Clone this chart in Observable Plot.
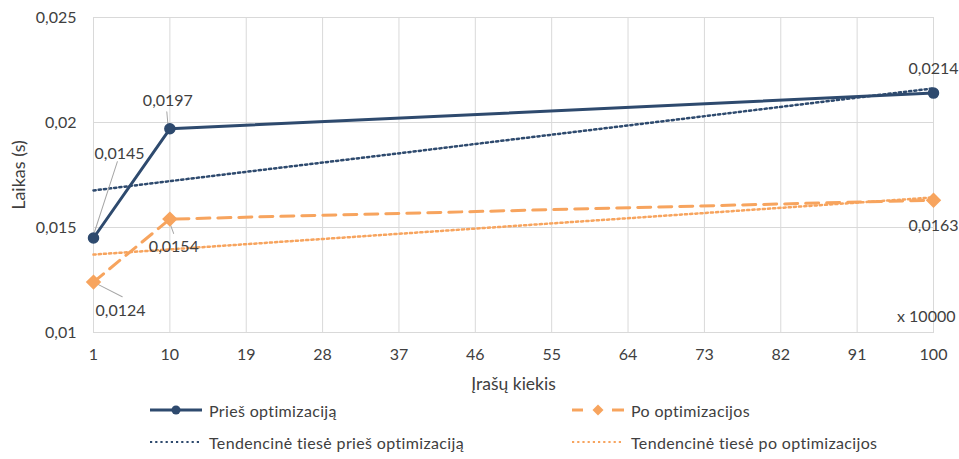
<!DOCTYPE html>
<html><head><meta charset="utf-8">
<script src="https://cdn.jsdelivr.net/npm/d3@7"></script>
<script src="https://cdn.jsdelivr.net/npm/@observablehq/plot@0.6"></script>
<style>
body{margin:0;background:#fff;font-family:Lato, "Open Sans", sans-serif;}
#chart{position:relative;width:959px;height:459px;overflow:hidden;}
#legend{position:absolute;left:0;top:400px;width:959px;height:59px;}
.leg{position:absolute;height:20px;display:flex;align-items:center;font-size:16px;letter-spacing:0.35px;color:#404040;white-space:nowrap;}
.leg svg{margin-right:7px;}
</style></head><body><div id="chart"></div>
<script>
// ---- data ----
const xValues = [1, 10, 100];
const beforeValues = [0.0145, 0.0197, 0.0214];
const afterValues = [0.0124, 0.0154, 0.0163];
const xTicks = [1, 10, 19, 28, 37, 46, 55, 64, 73, 82, 91, 100];
const yTicks = [0.01, 0.015, 0.02, 0.025];
const seriesNames = ["Prieš optimizaciją", "Po optimizacijos", "Tendencinė tiesė prieš optimizaciją", "Tendencinė tiesė po optimizacijos"];
const xLabel = "Įrašų kiekis";
const yLabel = "Laikas (s)";
const unitNote = "x 10000";

// ---- styles ----
const BLUE = "#2E4A6E", ORANGE = "#F7A45E", GRID = "#D9D9D9", TXT = "#404040", LEAD = "#A6A6A6";
const fmt = v => String(v).replace(".", ",");
const before = xValues.map((x, i) => ({x, y: beforeValues[i]}));
const after = xValues.map((x, i) => ({x, y: afterValues[i]}));
const leaderShape = {draw(ctx, l) { ctx.moveTo(0, 0); ctx.lineTo(0, -l); }};

function label(data, i, dx, dy) {
  return Plot.text(data, {filter: (d, j) => j === i, x: "x", y: "y", text: d => fmt(d.y), dx, dy, fill: TXT, fontSize: 16});
}
function leader(data, i, length, rotate, dx = 0, dy = 0) {
  return Plot.vector(data, {filter: (d, j) => j === i, x: "x", y: "y", length, rotate, anchor: "start", shape: leaderShape, stroke: LEAD, strokeWidth: 1, dx, dy});
}

const plot = Plot.plot({
  width: 959, height: 400,
  marginLeft: 93, marginRight: 26, marginTop: 17, marginBottom: 68,
  style: {fontFamily: "Lato, 'Open Sans', sans-serif", fontSize: "16px", color: TXT, background: "white", overflow: "visible"},
  x: {domain: [1, 100]},
  y: {domain: [0.01, 0.025]},
  length: {type: "identity"},
  marks: [
    Plot.gridX(xTicks, {stroke: GRID, strokeOpacity: 1}),
    Plot.gridY(yTicks, {stroke: GRID, strokeOpacity: 1}),
    Plot.frame({stroke: GRID}),
    Plot.axisX({ticks: xTicks, tickSize: 0, tickPadding: 16, label: null, fill: TXT, fontSize: 16}),
    Plot.axisY({ticks: yTicks, tickSize: 0, tickPadding: 17, tickFormat: fmt, label: null, fill: TXT, fontSize: 16}),
    Plot.text([xLabel], {frameAnchor: "bottom", dy: 52, lineAnchor: "middle", textAnchor: "middle", fill: TXT, fontSize: 17.5}),
    Plot.text([yLabel], {frameAnchor: "left", dx: -74, rotate: -90, lineAnchor: "middle", textAnchor: "middle", fill: TXT, fontSize: 18}),
    Plot.linearRegressionY(before, {x: "x", y: "y", stroke: BLUE, strokeWidth: 2.5, strokeDasharray: "2.2,3", ci: 0}),
    Plot.linearRegressionY(after, {x: "x", y: "y", stroke: ORANGE, strokeWidth: 2.5, strokeDasharray: "2.2,3", ci: 0}),
    leader(before, 0, 74, 18, 1, -6),
    leader(before, 1, 12, -5, -2, -5),
    leader(after, 0, 30, 117, 2, 1),
    leader(after, 1, 11, 160, 0, 4),
    Plot.line(before, {x: "x", y: "y", stroke: BLUE, strokeWidth: 3}),
    Plot.line(after, {x: "x", y: "y", stroke: ORANGE, strokeWidth: 3, strokeDasharray: "13,8"}),
    Plot.dot(before, {x: "x", y: "y", r: 5, fill: BLUE, stroke: BLUE}),
    Plot.dot(after, {x: "x", y: "y", r: 6, symbol: "diamond2", fill: ORANGE, stroke: ORANGE}),
    label(before, 0, 26, -84),
    label(before, 1, -2, -28),
    label(before, 2, 0, -24),
    label(after, 0, 27, 29),
    label(after, 1, 4, 28),
    label(after, 2, 0, 26),
    Plot.text([unitNote], {frameAnchor: "bottom-right", dx: 22, dy: -16, lineAnchor: "middle", textAnchor: "end", fill: TXT, fontSize: 16})
  ]
});
const chart = document.getElementById("chart");
chart.appendChild(plot);

// ---- legend ----
const legend = document.createElement("div");
legend.id = "legend";
const samples = [
  `<svg width="52" height="20"><line x1="0" x2="52" y1="10" y2="10" stroke="${BLUE}" stroke-width="3"/><circle cx="26" cy="10" r="4.5" fill="${BLUE}"/></svg>`,
  `<svg width="52" height="20"><line x1="0" x2="11" y1="10" y2="10" stroke="${ORANGE}" stroke-width="3"/><line x1="40" x2="52" y1="10" y2="10" stroke="${ORANGE}" stroke-width="3"/><path d="M26,4.5L31.5,10L26,15.5L20.5,10Z" fill="${ORANGE}"/></svg>`,
  `<svg width="52" height="20"><line x1="0" x2="50" y1="10" y2="10" stroke="${BLUE}" stroke-width="2.2" stroke-dasharray="2.2,3"/></svg>`,
  `<svg width="52" height="20"><line x1="0" x2="50" y1="10" y2="10" stroke="${ORANGE}" stroke-width="2.2" stroke-dasharray="2.2,3"/></svg>`
];
const legPos = [[150, 0], [572, 0], [150, 32], [572, 32]];
seriesNames.forEach((name, i) => {
  const item = document.createElement("div");
  item.className = "leg";
  item.style.left = legPos[i][0] + "px";
  item.style.top = legPos[i][1] + "px";
  item.innerHTML = samples[i] + `<span>${name}</span>`;
  legend.appendChild(item);
});
chart.appendChild(legend);
</script>
</body></html>
